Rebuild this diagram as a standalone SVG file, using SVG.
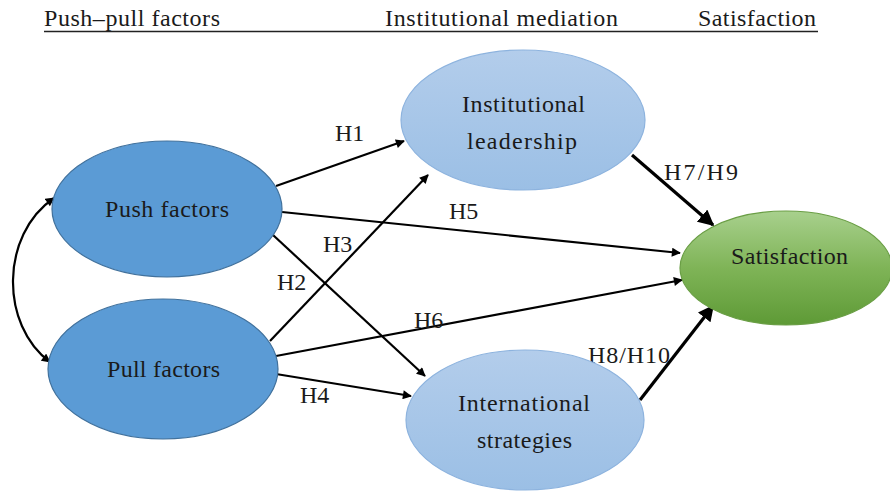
<svg xmlns="http://www.w3.org/2000/svg" width="890" height="493" viewBox="0 0 890 493" font-family="'Liberation Serif', 'DejaVu Serif', serif">
<defs>
<linearGradient id="gLight" x1="0" y1="0" x2="0" y2="1">
<stop offset="0" stop-color="#B3CDEB"/>
<stop offset="1" stop-color="#9BBFE5"/>
</linearGradient>
<linearGradient id="gGreen" x1="0" y1="0" x2="0" y2="1">
<stop offset="0" stop-color="#A8D08D"/>
<stop offset="0.5" stop-color="#7FB457"/>
<stop offset="1" stop-color="#5E9A36"/>
</linearGradient>
<marker id="ah" viewBox="0 0 10 10" refX="9" refY="5" markerWidth="10" markerHeight="9" markerUnits="userSpaceOnUse" orient="auto-start-reverse">
<path d="M0,0 L10,5 L0,10 Z" fill="#000"/>
</marker>
<marker id="ah2" viewBox="0 0 10 10" refX="9" refY="5" markerWidth="5" markerHeight="5" orient="auto">
<path d="M0,0 L10,5 L0,10 Z" fill="#000"/>
</marker>
<style>
text{font-family:'Liberation Serif','DejaVu Serif',serif;fill:#1a1a1a}
.hdr{font-size:24px}
.nd{font-size:24px;text-anchor:middle}
.lb{font-size:24px}
.dark{fill:#5B9BD5;stroke:#41719C;stroke-width:1.2}
.light{fill:url(#gLight);stroke:#8DB3DE;stroke-width:1.2}
.green{fill:url(#gGreen);stroke:#6A9E45;stroke-width:1.2}
.c{stroke:#000;stroke-width:2.2;fill:none;marker-end:url(#ah)}
.ct{stroke:#000;stroke-width:3.2;fill:none;marker-end:url(#ah2)}
</style>
</defs>
<g id="header">
<text class="hdr" x="44" y="26" textLength="176">Push–pull factors</text>
<text class="hdr" x="385" y="26" textLength="233">Institutional mediation</text>
<text class="hdr" x="698" y="26" textLength="118">Satisfaction</text>
<line x1="44" y1="31.5" x2="818" y2="31.5" stroke="#222" stroke-width="1.5"/>
</g>
<g id="connectors">
<line class="c" x1="276" y1="186" x2="404" y2="141"/>
<line class="c" x1="282" y1="212" x2="680" y2="253"/>
<line class="c" x1="273" y1="235" x2="425" y2="376"/>
<line class="c" x1="270" y1="341" x2="428" y2="175"/>
<line class="c" x1="276" y1="356" x2="682" y2="280"/>
<line class="c" x1="276" y1="374" x2="411" y2="396"/>
<line class="ct" x1="632" y1="155" x2="713" y2="225"/>
<line class="ct" x1="640" y1="400" x2="713" y2="306"/>
<path class="c" d="M54,198 C0,235 0,325 50,362" marker-start="url(#ah)"/>
</g>
<g id="labels">
<text class="lb" x="335" y="141">H1</text>
<text class="lb" x="449" y="219">H5</text>
<text class="lb" x="323" y="252">H3</text>
<text class="lb" x="277" y="290">H2</text>
<text class="lb" x="414" y="328">H6</text>
<text class="lb" x="300" y="403">H4</text>
<text class="lb" x="664" y="180" textLength="74">H7/H9</text>
<text class="lb" x="588" y="363" textLength="82">H8/H10</text>
</g>
<g id="push">
<ellipse class="dark" cx="167" cy="209" rx="115" ry="68"/>
<text class="nd" x="167" y="217" textLength="124">Push factors</text>
</g>
<g id="pull">
<ellipse class="dark" cx="163" cy="369" rx="115" ry="70"/>
<text class="nd" x="163.5" y="377" textLength="113">Pull factors</text>
</g>
<g id="leadership">
<ellipse class="light" cx="523" cy="120" rx="122" ry="70"/>
<text class="nd" x="523.5" y="112" textLength="123">Institutional</text>
<text class="nd" x="522" y="149" textLength="110">leadership</text>
</g>
<g id="strategies">
<ellipse class="light" cx="525" cy="420" rx="119" ry="70"/>
<text class="nd" x="524" y="411" textLength="132">International</text>
<text class="nd" x="524.5" y="448" textLength="95">strategies</text>
</g>
<g id="satisfaction">
<ellipse class="green" cx="786" cy="268" rx="106" ry="57"/>
<text class="nd" x="789.5" y="264" textLength="117">Satisfaction</text>
</g>
</svg>
